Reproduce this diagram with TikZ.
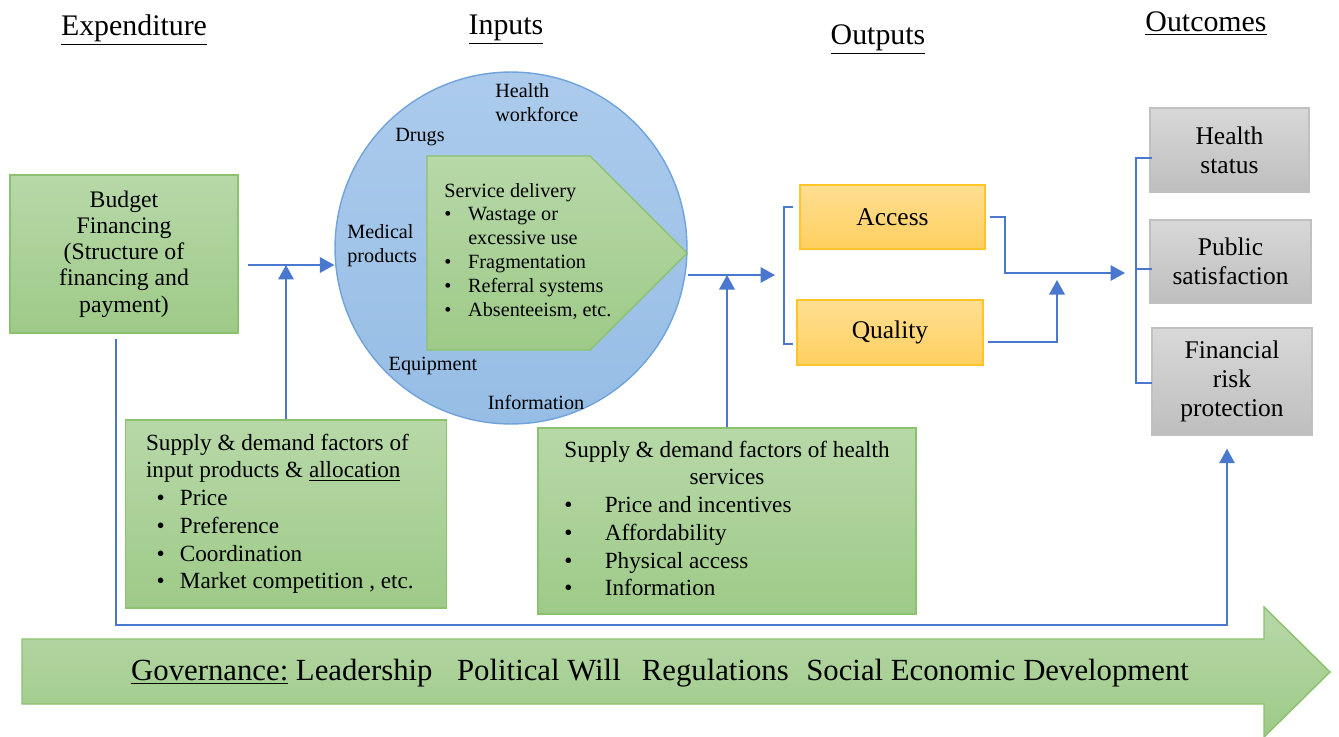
\documentclass[tikz,border=0pt]{standalone}
\usepackage{fontspec}
\setmainfont{Liberation Serif}[Ligatures=TeX]
\usetikzlibrary{arrows.meta,positioning}
\definecolor{greentop}{RGB}{183,216,168}
\definecolor{greenbot}{RGB}{158,202,136}
\definecolor{greenline}{RGB}{140,193,110}
\definecolor{bluetop}{RGB}{172,203,236}
\definecolor{bluebot}{RGB}{150,189,229}
\definecolor{blueline}{RGB}{112,163,220}
\definecolor{orangetop}{RGB}{255,222,145}
\definecolor{orangebot}{RGB}{255,208,96}
\definecolor{orangeline}{RGB}{255,196,40}
\definecolor{graytop}{RGB}{216,216,216}
\definecolor{graybot}{RGB}{190,190,190}
\definecolor{grayline}{RGB}{192,192,192}
\definecolor{flowblue}{RGB}{74,120,207}

\begin{document}
\begin{tikzpicture}[x=0.02cm,y=-0.02cm,
  greenbox/.style={draw=greenline,line width=0.8pt,top color=greentop,bottom color=greenbot},
  orangebox/.style={draw=orangeline,line width=0.8pt,top color=orangetop,bottom color=orangebot,
    font=\fontsize{14.5}{16.5}\selectfont},
  graybox/.style={draw=grayline,line width=0.8pt,top color=graytop,bottom color=graybot,
    align=center,font=\fontsize{14.5}{16.5}\selectfont},
  heading/.style={font=\fontsize{17}{20}\selectfont},
  inlabel/.style={font=\fontsize{11.5}{13.6}\selectfont,inner sep=0pt},
  factor/.style={greenbox,font=\fontsize{13.2}{15.8}\selectfont},
  flow/.style={draw=flowblue,line width=1.1pt},
  tip/.style={-{Triangle[width=0.31cm,length=0.29cm]}},
]
\useasboundingbox (0,0) rectangle (1339,737);

% column headings
\node[heading] (hexp) at (134,30) {\underline{Expenditure}};
\node[heading] (hin)  at (506,30) {\underline{Inputs}};
\node[heading] (hout) at (878,40) {\underline{Outputs}};
\node[heading] (hres) at (1206,24) {\underline{Outcomes}};

% expenditure
\node[greenbox,minimum width=4.56cm,minimum height=3.16cm,align=center,
  font=\fontsize{13.5}{14.9}\selectfont] (budget) at (124,254)
  {Budget\\Financing\\(Structure of\\financing and\\payment)};

% inputs: circle with the service delivery arrow
\node[circle,draw=blueline,line width=0.8pt,top color=bluetop,bottom color=bluebot,
  minimum size=7.04cm] (inputs) at (511,248) {};
\draw[greenbox] (427,156) -- (590,156) -- (687,253) -- (590,350) -- (427,350) -- cycle;
\node[inlabel,anchor=west,align=left] (work) at (495,103) {Health\\workforce};
\node[inlabel] (drugs) at (420,137) {Drugs};
\node[inlabel,anchor=west,align=left] (medic) at (347,246) {Medical\\products};
\node[inlabel] (equip) at (433,366) {Equipment};
\node[inlabel] (info) at (536,402) {Information};
\node[inlabel,anchor=north west] (svc) at (444,180) {%
  \begin{tabular}{@{}l@{}}
  Service delivery\\
  \makebox[13.6pt][l]{\textbullet}Wastage or\\
  \hspace*{13.6pt}excessive use\\
  \makebox[13.6pt][l]{\textbullet}Fragmentation\\
  \makebox[13.6pt][l]{\textbullet}Referral systems\\
  \makebox[13.6pt][l]{\textbullet}Absenteeism, etc.
  \end{tabular}};

% factor boxes
\node[factor,minimum width=6.42cm,minimum height=3.76cm] (inputfac) at (286,514) {%
  \begin{tabular}{@{}l@{\hspace{7pt}}}
  Supply \& demand factors of\\
  input products \& \underline{allocation}\\
  \hspace*{6pt}\makebox[13.3pt][l]{\textbullet}Price\\
  \hspace*{6pt}\makebox[13.3pt][l]{\textbullet}Preference\\
  \hspace*{6pt}\makebox[13.3pt][l]{\textbullet}Coordination\\
  \hspace*{6pt}\makebox[13.3pt][l]{\textbullet}Market competition , etc.
  \end{tabular}};
\node[factor,minimum width=7.56cm,minimum height=3.72cm] (servfac) at (727,521) {%
  \begin{tabular}{@{}l@{}}
  \multicolumn{1}{@{}c@{}}{Supply \& demand factors of health}\\
  \multicolumn{1}{@{}c@{}}{services}\\
  \makebox[23pt][l]{\textbullet}Price and incentives\\
  \makebox[23pt][l]{\textbullet}Affordability\\
  \makebox[23pt][l]{\textbullet}Physical access\\
  \makebox[23pt][l]{\textbullet}Information
  \end{tabular}};

% outputs
\node[orangebox,minimum width=3.7cm,minimum height=1.28cm] (access) at (892.5,217) {Access};
\node[orangebox,minimum width=3.72cm,minimum height=1.3cm] (quality) at (890,332.5) {Quality};

% outcomes
\node[graybox,minimum width=3.18cm,minimum height=1.68cm] (health) at (1229.5,150) {Health\\status};
\node[graybox,minimum width=3.22cm,minimum height=1.66cm] (public) at (1230.5,261.5) {Public\\satisfaction};
\node[graybox,minimum width=3.2cm,minimum height=2.14cm] (fin) at (1232,381.5) {Financial\\risk\\protection};

% governance arrow
\draw[greenbox] (22,639) -- (1264,639) -- (1264,607) -- (1330,672) -- (1264,737)
  -- (1264,704) -- (22,704) -- cycle;
\node[font=\fontsize{17.5}{20}\selectfont] (gov) at (660,673)
  {\underline{Governance:} Leadership\hspace{14pt}Political Will\hspace{12pt}Regulations\hspace{10pt}Social Economic Development};

% connectors
\coordinate (budgetout) at (248,265);
\coordinate (svcout) at (775,275);
\coordinate (resin) at (1125,273);
\coordinate (join) at (1057,280);
\coordinate (govL) at (116,625);
\coordinate (govR) at (1227,625);

\draw[flow,tip] (budgetout) -- (budgetout -| inputs.west);
\draw[flow,tip] (inputfac.north) -- (inputfac.north |- budgetout);
\draw[flow,tip] (svcout -| inputs.east) -- (svcout);
\draw[flow,tip] (servfac.north) -- (servfac.north |- svcout);
\draw[flow] (793,207) -- (784,207) -- (784,344) -- (793,344);
\draw[flow,tip,shorten <=0.08cm] (access.east) -- ++(19,0) |- (resin);
\draw[flow,tip,shorten <=0.08cm] ([yshift=-0.19cm]quality.east) -- ([yshift=-0.19cm]quality.east -| join) -- (join);
\draw[flow] (1152,158) -- (1136,158) -- (1136,383) -- (1152,383);
\draw[flow] (1136,269) -- (1152,269);
\draw[flow,tip,line width=0.7pt,shorten <=0.1cm,shorten >=0.26cm]
  (budget.south -| govL) -- (govL) -- (govR) -- (govR |- fin.south);
\end{tikzpicture}
\end{document}
